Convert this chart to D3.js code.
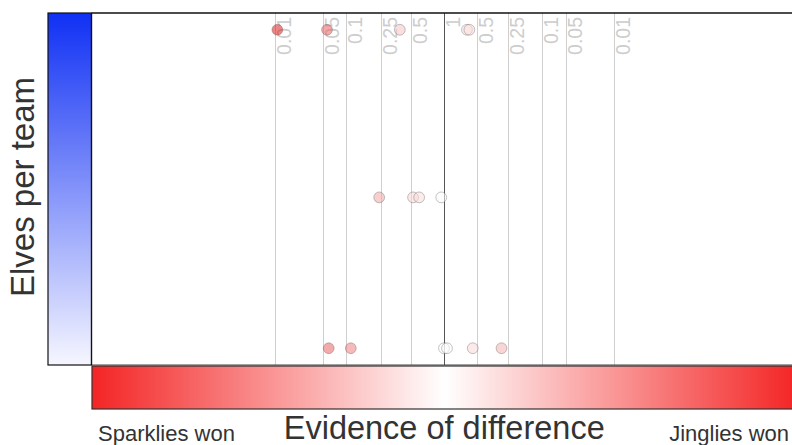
<!DOCTYPE html>
<html>
<head>
<meta charset="utf-8">
<script src="https://cdn.jsdelivr.net/npm/d3@7"></script>
<style>
  body { margin: 0; background: #fff; }
  svg { display: block; font-family: "Liberation Sans", Arial, Helvetica, sans-serif; }
</style>
</head>
<body>
<svg id="chart" width="792" height="445"></svg>
<script>
// Team sizes shown on the vertical axis
const teamSizes = [20, 10, 1];

// One entry per game: team size, two-sided p-value, and which side won
const gameElves   = [20, 20, 20, 20, 20, 10, 10, 10, 10, 1, 1, 1, 1, 1, 1];
const gamePValues = [0.011, 0.057, 0.39, 0.62, 0.59, 0.24, 0.52, 0.59, 0.925, 0.06, 0.114, 0.99, 0.93, 0.55, 0.29];
const gameWinners = ["Sparklies", "Sparklies", "Sparklies", "Jinglies", "Jinglies",
                     "Sparklies", "Sparklies", "Sparklies", "Sparklies",
                     "Sparklies", "Sparklies", "Sparklies", "Jinglies", "Jinglies", "Jinglies"];

// p-value reference lines, mirrored on both sides of "1"
const pTicks = [0.01, 0.05, 0.1, 0.25, 0.5];
const centerTick = 1;

const sideLabels = ["Sparklies won", "Jinglies won"];
const xTitle = "Evidence of difference";
const yTitle = "Elves per team";

// upper-tail normal quantile (Abramowitz & Stegun 26.2.23)
function normalUpper(q) {
  const t = Math.sqrt(-2 * Math.log(q));
  return t - (2.515517 + 0.802853 * t + 0.010328 * t * t) /
             (1 + 1.432788 * t + 0.189269 * t * t + 0.001308 * t * t * t);
}
// signed evidence score from a two-sided p-value
function evidence(p, side) {
  const z = Math.max(0, normalUpper(p / 2));
  return side * Math.pow(z, 1.22);
}
const sideOf = w => (w === "Jinglies" ? 1 : -1);

const svg = d3.select("#chart");
const plot = { left: 91.5, right: 797, top: 13, bottom: 365 };

const xMax = 6.6;
const x = d3.scaleLinear().domain([-xMax, xMax]).range([plot.left, plot.right]);
const y = d3.scaleLinear().domain([0, 21]).range([plot.bottom, plot.top]);

const barColor = d3.scaleLinear().domain([-xMax, 0, xMax]).range(["#f42424", "#ffffff", "#f42424"]);
const pointColor = d3.scaleLinear().domain([0, evidence(0.01, 1)]).range(["#ffffff", "#e01c1c"]).clamp(true);

const defs = svg.append("defs");

// horizontal red-white-red gradient
const gx = defs.append("linearGradient").attr("id", "gradX")
  .attr("x1", "0%").attr("x2", "100%").attr("y1", "0%").attr("y2", "0%");
d3.range(0, 1.0001, 0.05).forEach(t => {
  gx.append("stop").attr("offset", (t * 100) + "%")
    .attr("stop-color", barColor(-xMax + t * 2 * xMax));
});

// vertical blue gradient for team size
const sizeColor = d3.scaleLinear().domain([0, 21]).range(["#f6f6ff", "#1030f4"]);
const gy = defs.append("linearGradient").attr("id", "gradY")
  .attr("x1", "0%").attr("x2", "0%").attr("y1", "0%").attr("y2", "100%");
d3.range(0, 1.0001, 0.1).forEach(t => {
  gy.append("stop").attr("offset", (t * 100) + "%")
    .attr("stop-color", sizeColor(y.invert(plot.top + t * (plot.bottom - plot.top))));
});

// colour bars
svg.append("rect")
  .attr("x", 48).attr("y", plot.top)
  .attr("width", plot.left - 48).attr("height", plot.bottom - plot.top)
  .attr("fill", "url(#gradY)").attr("stroke", "#111").attr("stroke-width", 1.2);

svg.append("rect")
  .attr("x", plot.left + 0.5).attr("y", plot.bottom + 1)
  .attr("width", plot.right - plot.left).attr("height", 43)
  .attr("fill", "url(#gradX)").attr("stroke", "#333").attr("stroke-width", 1.2);

// reference lines and labels
const tickData = [];
pTicks.forEach(p => {
  tickData.push({ p, v: evidence(p, -1) });
  tickData.push({ p, v: evidence(p, 1) });
});

const grid = svg.append("g");
grid.selectAll("line.grid").data(tickData).join("line")
  .attr("class", "grid")
  .attr("x1", d => Math.round(x(d.v)) + 0.5).attr("x2", d => Math.round(x(d.v)) + 0.5)
  .attr("y1", plot.top).attr("y2", plot.bottom)
  .attr("stroke", "#cfcfcf").attr("stroke-width", 1);

const labelData = tickData.concat([{ p: centerTick, v: 0 }]);
grid.selectAll("text.tick").data(labelData).join("text")
  .attr("class", "tick")
  .attr("transform", d => `translate(${x(d.v) + 16},17) rotate(-90)`)
  .attr("text-anchor", "end")
  .attr("font-size", 19.5)
  .attr("fill", "#cdcdcd")
  .text(d => d3.format("")(d.p));

svg.append("line")
  .attr("x1", Math.round(x(0)) + 0.5).attr("x2", Math.round(x(0)) + 0.5)
  .attr("y1", plot.top).attr("y2", plot.bottom)
  .attr("stroke", "#555").attr("stroke-width", 1);

// games
const games = gameElves.map((e, i) => ({
  elves: e,
  v: evidence(gamePValues[i], sideOf(gameWinners[i]))
}));

svg.append("g").selectAll("circle").data(games).join("circle")
  .attr("cx", d => x(d.v))
  .attr("cy", d => y(d.elves))
  .attr("r", 5.4)
  .attr("fill", d => pointColor(Math.abs(d.v)))
  .attr("fill-opacity", 0.55)
  .attr("stroke", "#555")
  .attr("stroke-opacity", 0.35)
  .attr("stroke-width", 1);

// plot frame
svg.append("line").attr("x1", plot.left).attr("x2", plot.right)
  .attr("y1", plot.top).attr("y2", plot.top).attr("stroke", "#111").attr("stroke-width", 1.4);
svg.append("line").attr("x1", plot.left).attr("x2", plot.right)
  .attr("y1", plot.bottom).attr("y2", plot.bottom).attr("stroke", "#444").attr("stroke-width", 1.2);
svg.append("line").attr("x1", plot.left).attr("x2", plot.left)
  .attr("y1", plot.top).attr("y2", plot.bottom).attr("stroke", "#111").attr("stroke-width", 1.2);

// titles
svg.append("text")
  .attr("transform", `translate(34,187) rotate(-90)`)
  .attr("text-anchor", "middle")
  .attr("font-size", 33)
  .attr("fill", "#333")
  .text(yTitle);

svg.append("text")
  .attr("x", x(0)).attr("y", 439)
  .attr("text-anchor", "middle")
  .attr("font-size", 32.5)
  .attr("fill", "#333")
  .text(xTitle);

svg.append("text")
  .attr("x", 98).attr("y", 441)
  .attr("font-size", 22)
  .attr("fill", "#333")
  .text(sideLabels[0]);

svg.append("text")
  .attr("x", 789).attr("y", 441)
  .attr("text-anchor", "end")
  .attr("font-size", 22)
  .attr("fill", "#333")
  .text(sideLabels[1]);
</script>
</body>
</html>
